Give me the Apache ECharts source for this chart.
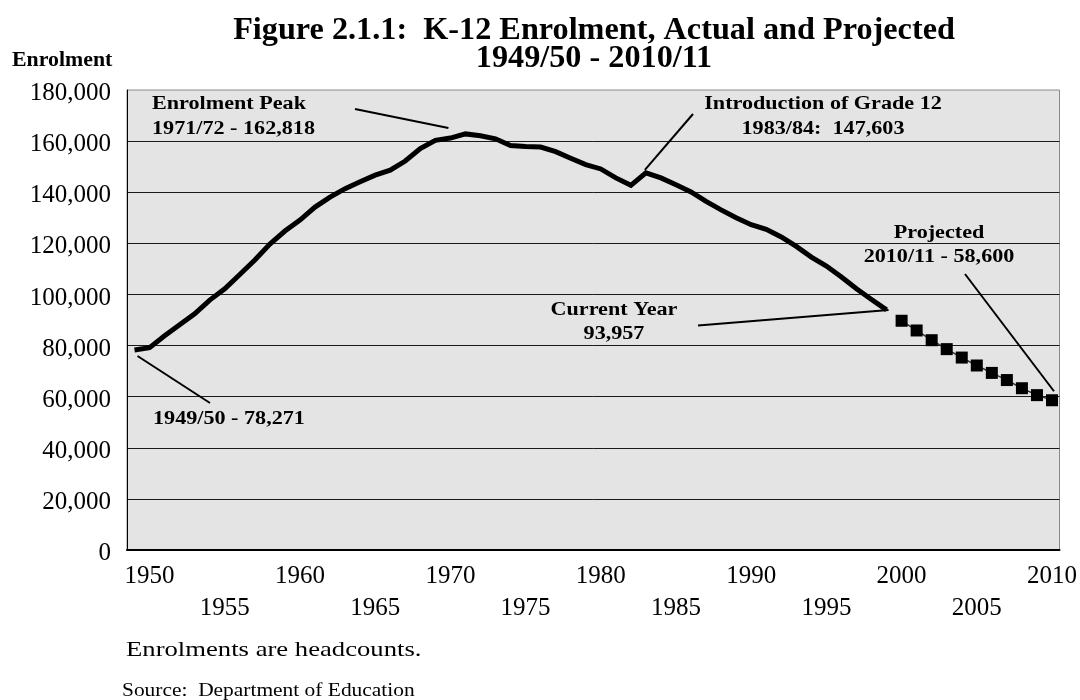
<!DOCTYPE html>
<html>
<head>
<meta charset="utf-8">
<script src="https://cdn.jsdelivr.net/npm/echarts@6/dist/echarts.min.js"></script>
<style>
  html, body { margin: 0; padding: 0; background: #fff; }
  #chart { width: 1080px; height: 700px; }
</style>
</head>
<body>
<div id="chart"></div>
<script>
// School years 1949/50 … 2010/11
const schoolYears = [];
for (let y = 1949; y <= 2010; y++) {
  schoolYears.push(y + '/' + String(y + 1).slice(-2));
}

// Labelled years on the horizontal axis
const tickYears = [1950, 1955, 1960, 1965, 1970, 1975, 1980, 1985, 1990, 1995, 2000, 2005, 2010];

// Actual K-12 enrolment, 1949/50 … 1999/2000
const actualEnrolment = [
  78271, 79200, 83800, 88100, 92400, 97800, 102200, 107800, 113500, 119700,
  124800, 129100, 134200, 138100, 141400, 144100, 146700, 148600, 152200, 157100,
  160300, 161200, 162818, 162100, 160900, 158300, 157900, 157700, 155900, 153300,
  150800, 149100, 145600, 142700, 147603, 145600, 142900, 140100, 136400, 133100,
  130000, 127300, 125500, 122500, 118800, 114600, 111100, 106800, 102200, 98000,
  93957
];

// Projected enrolment, 2000/01 … 2010/11
const projectedEnrolment = [
  89700, 85900, 82100, 78600, 75300, 72200, 69300, 66500, 63300, 60600, 58600
];

const yTicks = [0, 20000, 40000, 60000, 80000, 100000, 120000, 140000, 160000, 180000];

const SERIF = '"Liberation Serif", "Times New Roman", serif';

const projectedSeries = actualEnrolment.map(() => '-').concat(projectedEnrolment);

const chart = echarts.init(document.getElementById('chart'), null, { renderer: 'canvas' });

function startYear(cat) { return parseInt(cat.slice(0, 4), 10); }

function textEl(id, text, x, y, size, opts) {
  opts = opts || {};
  return {
    id: id,
    type: 'text',
    x: x,
    y: y,
    scaleX: opts.scaleX || 1,
    z: 100,
    style: {
      text: text,
      font: (opts.bold ? 'bold ' : '') + size + 'px ' + SERIF,
      fill: '#000',
      align: opts.align || 'left',
      textAlign: opts.align || 'left',
      verticalAlign: 'middle',
      textVerticalAlign: 'middle'
    }
  };
}

const option = {
  animation: false,
  backgroundColor: '#fff',
  textStyle: { fontFamily: SERIF, color: '#000' },
  grid: {
    left: 127, right: 20, top: 90, bottom: 150,
    show: true,
    backgroundColor: '#e4e4e4',
    borderColor: '#8a8a8a',
    borderWidth: 1
  },
  xAxis: {
    type: 'category',
    data: schoolYears,
    boundaryGap: true,
    axisLine: { show: true, lineStyle: { color: '#000', width: 2 } },
    axisTick: { show: false },
    splitLine: { show: false },
    axisLabel: {
      interval: (idx, val) => tickYears.indexOf(startYear(val)) !== -1,
      formatter: (val) => {
        const y = startYear(val);
        return y % 10 === 0 ? String(y) : '\n' + y;
      },
      hideOverlap: false,
      fontFamily: SERIF,
      fontSize: 25,
      lineHeight: 32,
      color: '#000',
      margin: 10
    }
  },
  yAxis: {
    type: 'value',
    min: yTicks[0],
    max: yTicks[yTicks.length - 1],
    interval: yTicks[1] - yTicks[0],
    axisLine: { show: true, lineStyle: { color: '#000', width: 1 } },
    axisTick: { show: false },
    axisLabel: {
      formatter: (v) => v.toLocaleString('en-US'),
      fontFamily: SERIF,
      fontSize: 25,
      color: '#000',
      margin: 16,
      verticalAlign: 'top',
      lineHeight: 7
    },
    splitLine: {
      show: true,
      showMaxLine: false,
      lineStyle: { color: '#1a1a1a', width: 1 }
    }
  },
  series: [
    {
      name: 'Actual',
      type: 'line',
      data: actualEnrolment,
      showSymbol: false,
      symbol: 'none',
      lineStyle: { color: '#000', width: 5, join: 'miter' },
      z: 4
    },
    {
      name: 'Projected',
      type: 'line',
      data: projectedSeries,
      symbol: 'rect',
      symbolSize: 12,
      showSymbol: true,
      showAllSymbol: true,
      itemStyle: { color: '#000' },
      lineStyle: { color: '#333', width: 1.5 },
      z: 5
    }
  ],
  graphic: [
    textEl('t1', 'Figure 2.1.1:  K-12 Enrolment, Actual and Projected', 594, 31, 31, { bold: true, align: 'center', scaleX: 1.04 }),
    textEl('t2', '1949/50 - 2010/11', 594, 58.5, 31, { bold: true, align: 'center', scaleX: 1.04 }),
    textEl('yname', 'Enrolment', 12, 61, 21, { bold: true, scaleX: 1.04 }),

    textEl('a1', 'Enrolment Peak', 152, 104.4, 18, { bold: true, scaleX: 1.23 }),
    textEl('a2', '1971/72 - 162,818', 152, 129.4, 18, { bold: true, scaleX: 1.23 }),
    textEl('a3', 'Introduction of Grade 12', 823, 104.4, 18, { bold: true, align: 'center', scaleX: 1.23 }),
    textEl('a4', '1983/84:  147,603', 823, 129.4, 18, { bold: true, align: 'center', scaleX: 1.23 }),
    textEl('a5', 'Current Year', 614, 310.4, 18, { bold: true, align: 'center', scaleX: 1.23 }),
    textEl('a6', '93,957', 614, 333.9, 18, { bold: true, align: 'center', scaleX: 1.23 }),
    textEl('a7', 'Projected', 939, 233.4, 18, { bold: true, align: 'center', scaleX: 1.23 }),
    textEl('a8', '2010/11 - 58,600', 939, 257.7, 18, { bold: true, align: 'center', scaleX: 1.23 }),
    textEl('a9', '1949/50 - 78,271', 153, 419.4, 18, { bold: true, scaleX: 1.23 }),

    textEl('n1', 'Enrolments are headcounts.', 126, 650.6, 21, { scaleX: 1.27 }),
    textEl('n2', 'Source:  Department of Education', 122, 691, 18, { scaleX: 1.19 })
  ]
};

chart.setOption(option);

// Callout pointers: one end near the text, the other beside the data point it names
function pt(idx, value) {
  return chart.convertToPixel({ xAxisIndex: 0, yAxisIndex: 0 }, [idx, value]);
}
const lastActual = actualEnrolment.length - 1;
const lastProjected = lastActual + projectedEnrolment.length;
const peakIdx = actualEnrolment.indexOf(Math.max.apply(null, actualEnrolment));
const grade12Idx = 34;

const pointers = [
  { from: [355, 109], at: pt(peakIdx, actualEnrolment[peakIdx]), off: [-17, -6] },
  { from: [210, 403], at: pt(0, actualEnrolment[0]), off: [3, 6] },
  { from: [693, 114], at: pt(grade12Idx, actualEnrolment[grade12Idx]), off: [-1, -3] },
  { from: [698, 325.5], at: pt(lastActual, actualEnrolment[lastActual]), off: [2, 0] },
  { from: [965, 274], at: pt(lastProjected, projectedEnrolment[projectedEnrolment.length - 1]), off: [2, -9] }
];

chart.setOption({
  graphic: pointers.map((p, i) => ({
    id: 'ptr' + i,
    type: 'line',
    z: 90,
    shape: { x1: p.from[0], y1: p.from[1], x2: p.at[0] + p.off[0], y2: p.at[1] + p.off[1] },
    style: { stroke: '#000', lineWidth: 2 }
  }))
});
</script>
</body>
</html>
